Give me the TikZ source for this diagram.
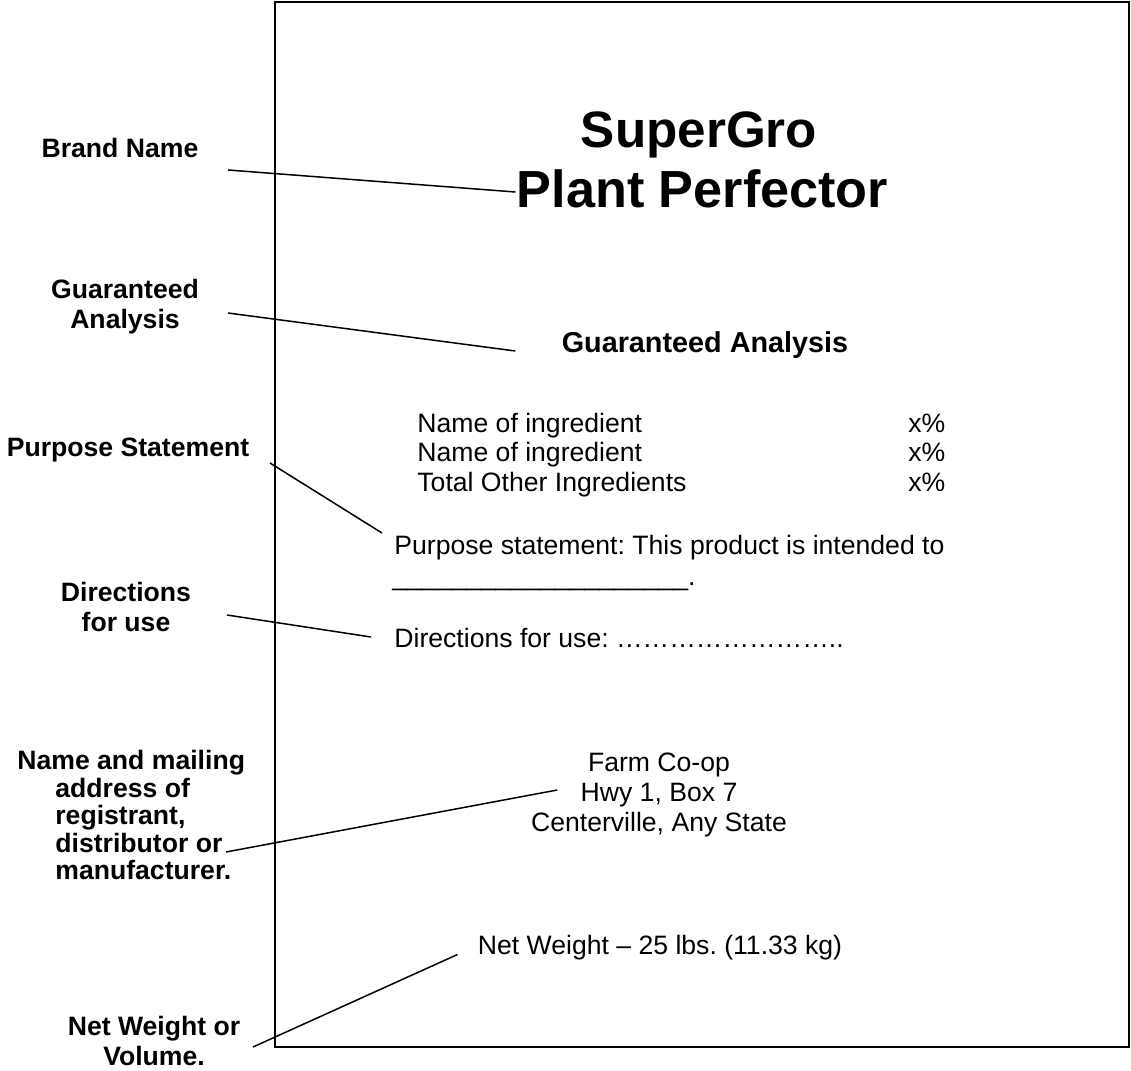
\documentclass[tikz,border=0pt]{standalone}
\usepackage{fontspec}
\setmainfont{Liberation Sans}
\usepackage{tikz}
\usetikzlibrary{positioning}
\frenchspacing

\begin{document}
\begin{tikzpicture}[
x=0.5pt, y=-0.5pt,
lbl/.style={font=\fontsize{13.3pt}{15pt}\selectfont\bfseries, align=center, inner sep=0pt},
body/.style={font=\fontsize{13.3pt}{15pt}\selectfont, inner sep=0pt},
row/.style={body, anchor=base west},
conn/.style={line width=0.75pt}
]
\useasboundingbox (0,0) rectangle (1131,1071);
\draw[line width=1pt] (275,2) rectangle (1129,1047);

\node[font=\fontsize{25.6pt}{28pt}\selectfont\bfseries, inner sep=0pt, anchor=base] (super) at (699,147) {SuperGro};
\node[font=\fontsize{26.1pt}{28pt}\selectfont\bfseries, inner sep=0pt, anchor=base] (plant) at (702.5,207) {Plant Perfector};
\node[font=\fontsize{14.4pt}{16pt}\selectfont\bfseries, inner sep=0pt, anchor=base] (ga) at (705,352.5) {Guaranteed Analysis};

\node[row] (ing1) at (417,432.5) {Name of ingredient};
\node[row] (ing2) at (417,461.5) {Name of ingredient};
\node[row] (ing3) at (417,491.5) {Total Other Ingredients};
\node[row] (pct1) at (908,432.5) {x\%};
\node[row] (pct2) at (908,461.5) {x\%};
\node[row] (pct3) at (908,491.5) {x\%};

\node[row] (purp) at (394,554.5) {Purpose statement: This product is intended to};
\node[row] (blank) at (392,585) {\_\_\_\_\_\_\_\_\_\_\_\_\_\_\_\_\_\_\_\_.};
\node[row] (dir) at (394,647.5) {Directions for use: ……………………..};
\node[body, align=center] (addr) at (659,794.5) {Farm Co-op\\Hwy 1, Box 7\\Centerville, Any State};
\node[body, anchor=base] (net) at (660,954.5) {Net Weight – 25 lbs. (11.33 kg)};

\node[lbl, anchor=base] (lbrand) at (120,157.5) {Brand Name};
\node[lbl] (lga) at (125,307) {Guaranteed\\Analysis};
\node[lbl, anchor=base] (lpurp) at (128,456.5) {Purpose Statement};
\node[lbl] (ldir) at (126,607) {Directions\\for use};
\node[lbl, font=\fontsize{13.3pt}{13.75pt}\selectfont\bfseries, align=left, anchor=west] (lname) at (55,815) {\hspace*{-19pt}Name and mailing\\address of\\registrant,\\distributor or\\manufacturer.};
\node[lbl] (lnet) at (154,1041) {Net Weight or\\Volume.};

\coordinate (c1) at (228,170);
\coordinate (c2) at (228,313);
\coordinate (c3) at (270,463);
\coordinate (c4) at (227,615);
\coordinate (c5) at (226,852);
\coordinate (c6) at (253,1047);

\draw[conn] (c1) -- ([xshift=-0.5pt,yshift=7.5pt]plant.base west);
\draw[conn] (c2) -- ([xshift=-23pt,yshift=0.75pt]ga.base west);
\draw[conn] (c3) -- ([xshift=-6pt,yshift=10.75pt]purp.base west);
\draw[conn] (c4) -- ([xshift=-11.5pt,yshift=5.25pt]dir.base west);
\draw[conn] (c5) -- ([xshift=13.25pt,yshift=2.25pt]addr.west);
\draw[conn] (c6) -- ([xshift=-10pt]net.base west);
\end{tikzpicture}
\end{document}
